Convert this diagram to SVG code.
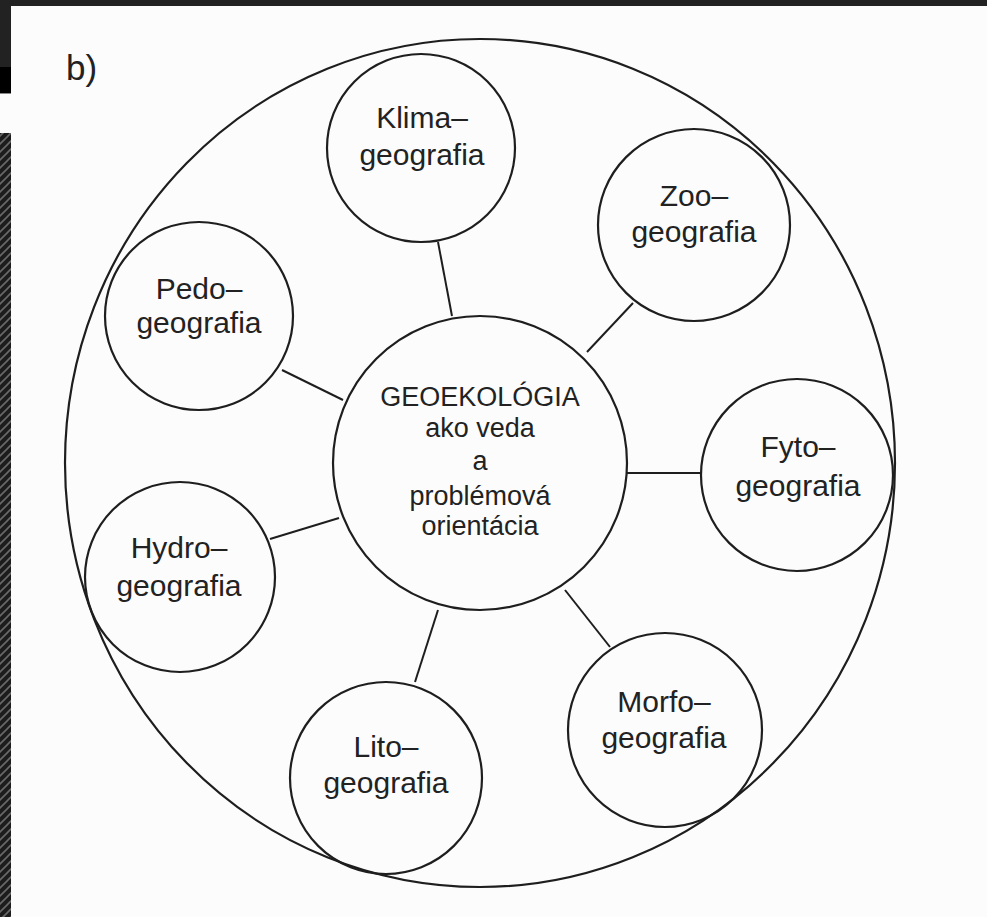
<svg xmlns="http://www.w3.org/2000/svg" width="987" height="917" viewBox="0 0 987 917">
  <defs>
    <pattern id="hatch" patternUnits="userSpaceOnUse" width="8" height="8">
      <rect width="8" height="8" fill="#1c1c1c"/>
      <path d="M-2,10 L10,-2" stroke="#6a6a6a" stroke-width="1.6"/>
      <path d="M-6,6 L6,-6 M2,14 L14,2" stroke="#6a6a6a" stroke-width="1.6"/>
    </pattern>
  </defs>
  <style>
    .c { fill: none; stroke: #1e1e1e; stroke-width: 2.2; }
    .n { fill: none; stroke: #1e1e1e; stroke-width: 2.2; }
    .t { font-family: "Liberation Sans", Arial, sans-serif; font-size: 30px; fill: #222; text-anchor: middle; }
    .m { font-family: "Liberation Sans", Arial, sans-serif; font-size: 27px; fill: #222; text-anchor: middle; }
    .l { stroke: #1e1e1e; stroke-width: 2; }
  </style>
  <rect x="0" y="0" width="987" height="917" fill="#fcfcfc"/>
  <rect x="0" y="0" width="987" height="6" fill="#222"/>
  <rect x="0" y="0" width="11" height="67" fill="#222"/>
  <rect x="0" y="67" width="11" height="26" fill="#000"/>
  <rect x="0" y="93" width="11" height="1" fill="#888"/>
  <rect x="0" y="133" width="11" height="784" fill="url(#hatch)"/>

  <text x="66" y="80" font-family="Liberation Sans, Arial, sans-serif" font-size="35" fill="#222">b)</text>

  <g id="outer">
    <ellipse cx="480" cy="463" rx="415" ry="424" class="n"/>
  </g>

  <g id="connectors">
    <line x1="438" y1="242" x2="452" y2="316" class="l"/>
    <line x1="633" y1="303" x2="587" y2="352" class="l"/>
    <line x1="282" y1="370" x2="343" y2="400" class="l"/>
    <line x1="627" y1="473" x2="702" y2="473" class="l"/>
    <line x1="270" y1="539" x2="339" y2="518" class="l"/>
    <line x1="415" y1="682" x2="438" y2="610" class="l"/>
    <line x1="565" y1="590" x2="610" y2="647" class="l"/>
  </g>

  <g id="center">
    <circle cx="480" cy="463" r="147" class="n"/>
    <text class="m" x="480" y="406">GEOEKOLÓGIA</text>
    <text class="m" x="480" y="437">ako veda</text>
    <text class="m" x="480" y="470">a</text>
    <text class="m" x="480" y="505">problémová</text>
    <text class="m" x="480" y="535">orientácia</text>
  </g>

  <g id="klima">
    <circle cx="421" cy="148" r="94" class="n"/>
    <text class="t" x="422" y="128">Klima–</text>
    <text class="t" x="422" y="165">geografia</text>
  </g>

  <g id="zoo">
    <circle cx="694" cy="225" r="96" class="n"/>
    <text class="t" x="694" y="206">Zoo–</text>
    <text class="t" x="694" y="242">geografia</text>
  </g>

  <g id="pedo">
    <circle cx="199" cy="316" r="94" class="n"/>
    <text class="t" x="199" y="299">Pedo–</text>
    <text class="t" x="199" y="333">geografia</text>
  </g>

  <g id="fyto">
    <circle cx="797" cy="475" r="96" class="n"/>
    <text class="t" x="798" y="457">Fyto–</text>
    <text class="t" x="798" y="496">geografia</text>
  </g>

  <g id="hydro">
    <circle cx="180" cy="577" r="95" class="n"/>
    <text class="t" x="179" y="558">Hydro–</text>
    <text class="t" x="179" y="596">geografia</text>
  </g>

  <g id="lito">
    <circle cx="386" cy="778" r="96" class="n"/>
    <text class="t" x="386" y="757">Lito–</text>
    <text class="t" x="386" y="793">geografia</text>
  </g>

  <g id="morfo">
    <circle cx="665" cy="730" r="97" class="n"/>
    <text class="t" x="664" y="712">Morfo–</text>
    <text class="t" x="664" y="748">geografia</text>
  </g>
</svg>
